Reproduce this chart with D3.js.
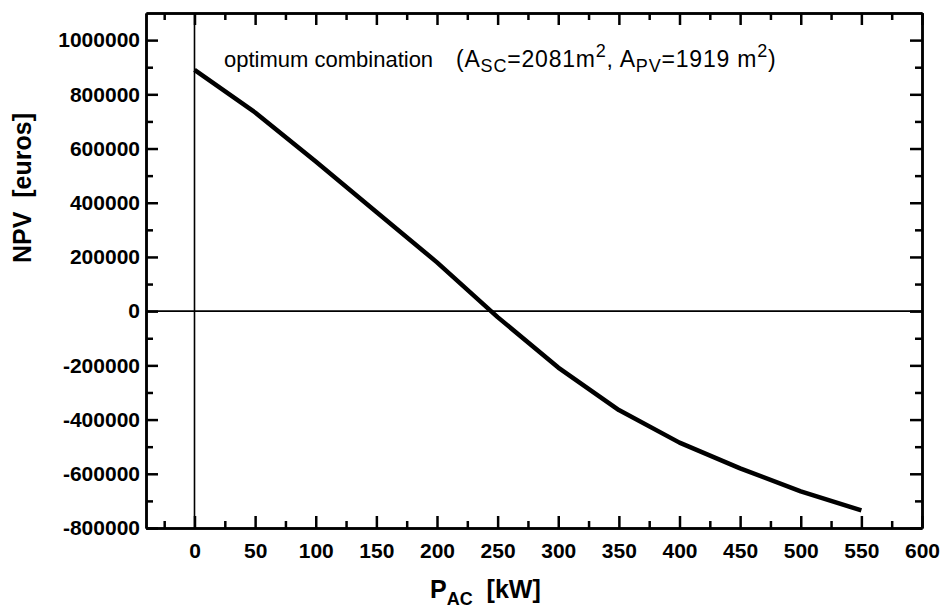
<!DOCTYPE html>
<html>
<head>
<meta charset="utf-8">
<script src="https://cdn.jsdelivr.net/npm/d3@7"></script>
<style>
  body { margin: 0; background: #fff; }
  svg text { font-family: "Liberation Sans", Arial, sans-serif; }
  .axis path { stroke: #000; stroke-width: 2.5px; }
  .axis line { stroke: #000; stroke-width: 2.5px; }
  .axis text { font-size: 21px; font-weight: bold; fill: #000; }
</style>
</head>
<body>
<script>
// NPV vs absorption chiller power
var power = [0, 50, 100, 150, 200, 250, 300, 350, 400, 450, 500, 550];
var npv = [890000, 733000, 552000, 366000, 180000, -22000, -208000, -365000, -485000, -580000, -665000, -735000];

var xTicks = [0, 50, 100, 150, 200, 250, 300, 350, 400, 450, 500, 550, 600];
var xMinor = [-25, 25, 75, 125, 175, 225, 275, 325, 375, 425, 475, 525, 575];
var yTicks = [-800000, -600000, -400000, -200000, 0, 200000, 400000, 600000, 800000, 1000000];
var yMinor = [-700000, -500000, -300000, -100000, 100000, 300000, 500000, 700000, 900000];

var svgWidth = 942;
var svgHeight = 615;

var margin = { top: 13, right: 20, bottom: 87, left: 146 };
var chartWidth = svgWidth - margin.left - margin.right;
var chartHeight = svgHeight - margin.top - margin.bottom;

var svg = d3.select("body")
  .append("svg")
  .attr("width", svgWidth)
  .attr("height", svgHeight);

var chartGroup = svg.append("g")
  .attr("transform", `translate(${margin.left}, ${margin.top})`);

var xScale = d3.scaleLinear()
  .domain([-40, 600])
  .range([0, chartWidth]);

var yScale = d3.scaleLinear()
  .domain([-800000, 1100000])
  .range([chartHeight, 0]);

// plain hyphen for negatives, like the original
var plain = d => String(d);

// bottom axis (ticks pointing inward)
chartGroup.append("g")
  .classed("axis", true)
  .attr("transform", `translate(0, ${chartHeight})`)
  .call(d3.axisBottom(xScale).tickValues(xTicks).tickSize(-12).tickSizeOuter(0).tickPadding(15).tickFormat(plain));

chartGroup.append("g")
  .classed("axis", true)
  .attr("transform", `translate(0, ${chartHeight})`)
  .call(d3.axisBottom(xScale).tickValues(xMinor).tickSize(-7).tickSizeOuter(0).tickFormat(""));

// top axis
chartGroup.append("g")
  .classed("axis", true)
  .call(d3.axisTop(xScale).tickValues(xTicks).tickSize(-12).tickSizeOuter(0).tickFormat(""));

chartGroup.append("g")
  .classed("axis", true)
  .call(d3.axisTop(xScale).tickValues(xMinor).tickSize(-7).tickSizeOuter(0).tickFormat(""));

// left axis
chartGroup.append("g")
  .classed("axis", true)
  .call(d3.axisLeft(yScale).tickValues(yTicks).tickSize(-12).tickSizeOuter(0).tickPadding(6).tickFormat(plain));

chartGroup.append("g")
  .classed("axis", true)
  .call(d3.axisLeft(yScale).tickValues(yMinor).tickSize(-7).tickSizeOuter(0).tickFormat(""));

// right axis
chartGroup.append("g")
  .classed("axis", true)
  .attr("transform", `translate(${chartWidth}, 0)`)
  .call(d3.axisRight(yScale).tickValues(yTicks).tickSize(-12).tickSizeOuter(0).tickFormat(""));

chartGroup.append("g")
  .classed("axis", true)
  .attr("transform", `translate(${chartWidth}, 0)`)
  .call(d3.axisRight(yScale).tickValues(yMinor).tickSize(-7).tickSizeOuter(0).tickFormat(""));

// zero lines
chartGroup.append("line")
  .attr("x1", xScale(0)).attr("x2", xScale(0))
  .attr("y1", 0).attr("y2", chartHeight)
  .attr("stroke", "#000").attr("stroke-width", 1.6);

chartGroup.append("line")
  .attr("x1", 0).attr("x2", chartWidth)
  .attr("y1", yScale(0)).attr("y2", yScale(0))
  .attr("stroke", "#000").attr("stroke-width", 1.6);

// data line
var drawLine = d3.line()
  .x((d, i) => xScale(power[i]))
  .y(d => yScale(d));

chartGroup.append("path")
  .attr("d", drawLine(npv))
  .attr("fill", "none")
  .attr("stroke", "#000")
  .attr("stroke-width", 4.5)
  .attr("stroke-linejoin", "round");

// annotation
var note = svg.append("text")
  .attr("x", 224)
  .attr("y", 67)
  .attr("font-size", "22px")
  .attr("fill", "#000");
note.append("tspan").text("optimum combination");
var paren = note.append("tspan").attr("x", 456).attr("font-size", "23px").attr("letter-spacing", "0.8px");
paren.append("tspan").text("(A");
paren.append("tspan").attr("font-size", "18px").attr("dy", 5).text("SC");
paren.append("tspan").attr("dy", -5).text("=2081m");
paren.append("tspan").attr("font-size", "18px").attr("dy", -10).text("2");
paren.append("tspan").attr("dy", 10).text(", A");
paren.append("tspan").attr("font-size", "18px").attr("dy", 5).text("PV");
paren.append("tspan").attr("dy", -5).text("=1919 m");
paren.append("tspan").attr("font-size", "18px").attr("dy", -10).text("2");
paren.append("tspan").attr("dy", 10).text(")");

// x-axis label
var xLabel = svg.append("text")
  .attr("x", 430)
  .attr("y", 598)
  .attr("font-size", "25px")
  .attr("font-weight", "bold")
  .attr("fill", "#000");
xLabel.append("tspan").text("P");
xLabel.append("tspan").attr("font-size", "18px").attr("dy", 7).text("AC");
xLabel.append("tspan").attr("dy", -7).text("\u00a0\u00a0[kW]");

// y-axis label
svg.append("text")
  .attr("transform", `translate(31, ${188}) rotate(-90)`)
  .attr("text-anchor", "middle")
  .attr("font-size", "25px")
  .attr("font-weight", "bold")
  .attr("fill", "#000")
  .text("NPV\u00a0\u00a0[euros]");
</script>
</body>
</html>
